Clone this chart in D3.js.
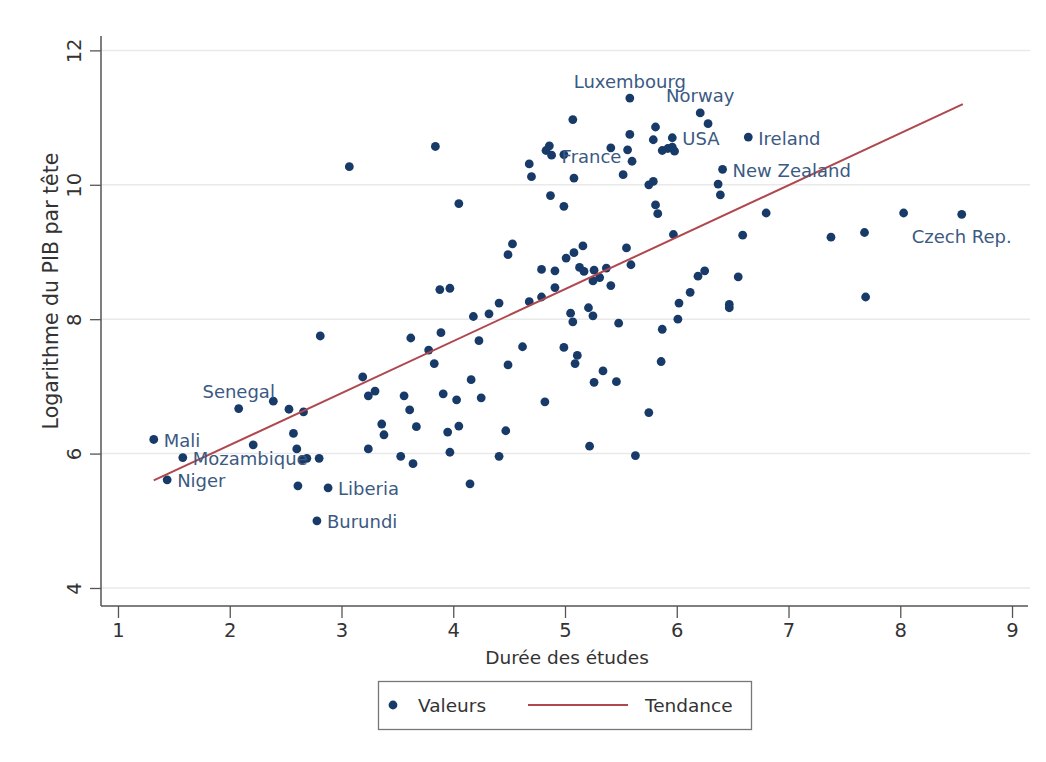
<!DOCTYPE html>
<html>
<head>
<meta charset="utf-8">
<script src="https://cdn.jsdelivr.net/npm/d3@7"></script>
<style>
  html, body { margin: 0; padding: 0; background: #ffffff; }
  svg { display: block; font-family: "DejaVu Sans", sans-serif; }
</style>
</head>
<body>
<svg id="chart" width="1046" height="762"></svg>
<script>
// ---- Data ----
const xTicks = [1, 2, 3, 4, 5, 6, 7, 8, 9];
const yTicks = [4, 6, 8, 10, 12];
const xTitle = "Durée des études";
const yTitle = "Logarithme du PIB par tête";
const legendLabels = ["Valeurs", "Tendance"];

// labelled countries: name, years of schooling, log GDP per head
const labelNames = ["Mali", "Mozambique", "Niger", "Senegal", "Liberia", "Burundi",
  "Luxembourg", "Norway", "France", "USA", "Ireland", "New Zealand", "Czech Rep."];
const labelX = [1.32, 1.58, 1.44, 2.08, 2.88, 2.78, 5.58, 6.21, 4.88, 5.96, 6.64, 6.41, 8.55];
const labelY = [6.21, 5.94, 5.61, 6.67, 5.49, 5.00, 11.29, 11.07, 10.44, 10.70, 10.71, 10.23, 9.56];

// other (unlabelled) countries
const otherX = [2.39, 2.53, 2.66, 2.21, 2.57, 2.60, 2.65, 2.69, 2.80, 2.61,
  3.19, 3.24, 3.30, 3.36, 3.38, 3.24, 3.53, 2.81, 3.64, 3.56,
  3.61, 3.67, 3.62, 3.89, 3.78, 3.83, 3.91, 4.03, 3.95, 4.05,
  3.97, 4.15, 4.16, 4.25, 4.41, 4.47, 4.49, 4.23, 4.18, 4.32,
  4.41, 4.62, 4.82, 4.68, 4.05, 4.99, 4.87, 5.81, 5.83, 5.97,
  4.53, 4.49, 5.16, 5.08, 5.01, 5.55, 5.59, 4.79, 4.91, 5.13,
  5.17, 5.26, 5.37, 5.25, 5.31, 5.41, 4.91, 4.79, 5.05, 5.07,
  5.21, 5.25, 5.48, 4.99, 5.11, 5.09, 5.34, 5.26, 5.46, 5.75,
  5.22, 5.63, 5.87, 5.86, 6.01, 6.02, 6.12, 6.19, 6.25, 3.88,
  3.97, 6.37, 6.39, 6.80, 6.59, 7.38, 7.68, 8.03, 7.69, 6.55,
  6.47, 6.47, 5.75, 5.79, 5.52, 5.60, 6.28, 5.81, 5.79, 5.87,
  5.92, 5.96, 5.98, 5.58, 5.56, 5.41, 5.07, 4.86, 4.83, 4.99,
  4.68, 4.70, 5.08, 3.07, 3.84];
const otherY = [6.78, 6.66, 6.62, 6.13, 6.30, 6.07, 5.91, 5.93, 5.93, 5.52,
  7.14, 6.86, 6.93, 6.44, 6.28, 6.07, 5.96, 7.75, 5.85, 6.86,
  6.65, 6.40, 7.72, 7.80, 7.54, 7.34, 6.89, 6.80, 6.32, 6.41,
  6.02, 5.55, 7.10, 6.83, 5.96, 6.34, 7.32, 7.68, 8.04, 8.08,
  8.24, 7.59, 6.77, 8.26, 9.72, 9.68, 9.84, 9.70, 9.57, 9.26,
  9.12, 8.96, 9.09, 8.99, 8.91, 9.06, 8.81, 8.74, 8.72, 8.77,
  8.71, 8.73, 8.76, 8.57, 8.62, 8.50, 8.47, 8.33, 8.09, 7.96,
  8.17, 8.05, 7.94, 7.58, 7.46, 7.34, 7.23, 7.06, 7.07, 6.61,
  6.11, 5.97, 7.85, 7.37, 8.00, 8.24, 8.40, 8.64, 8.72, 8.44,
  8.46, 10.01, 9.85, 9.58, 9.25, 9.22, 9.29, 9.58, 8.33, 8.63,
  8.22, 8.17, 10.00, 10.05, 10.15, 10.35, 10.91, 10.86, 10.67, 10.51,
  10.54, 10.56, 10.50, 10.75, 10.52, 10.55, 10.97, 10.58, 10.51, 10.45,
  10.31, 10.12, 10.10, 10.27, 10.57];

// trend line end points
const trendX = [1.32, 8.56];
const trendY = [5.60, 11.20];

// ---- Layout / style ----
const markerColor = "#173a68";
const labelColor = "#3b5a82";
const trendColor = "#b0464e";
const textColor = "#333333";
const gridColor = "#e9e9e9";

// label placement: t = above, b = below, otherwise to the right
const placement = { "Senegal": "t", "Luxembourg": "t", "Norway": "t", "Czech Rep.": "b" };

const svg = d3.select("#chart");
const x = d3.scaleLinear().domain([0.848, 9.134]).range([101, 1027]);
const y = d3.scaleLinear().domain([3.732, 12.214]).range([606, 36]);

// gridlines
svg.append("g").selectAll("line").data(yTicks).join("line")
  .attr("x1", 101).attr("x2", 1030)
  .attr("y1", d => y(d)).attr("y2", d => y(d))
  .attr("stroke", gridColor).attr("stroke-width", 1.5);

// x axis
const xAxis = svg.append("g").attr("transform", "translate(0,606)")
  .call(d3.axisBottom(x).tickValues(xTicks).tickFormat(d3.format("d")).tickSize(12).tickPadding(5));
xAxis.select(".domain").remove();
xAxis.selectAll(".tick line").attr("stroke", "#555").attr("stroke-width", 1.3);
xAxis.selectAll(".tick text").attr("fill", textColor)
  .style("font-family", "DejaVu Sans, sans-serif").style("font-size", "19.5px");
svg.append("line").attr("x1", 101).attr("x2", 1028).attr("y1", 606).attr("y2", 606)
  .attr("stroke", "#555").attr("stroke-width", 1.5);

// y axis
const yAxis = svg.append("g").attr("transform", "translate(101,0)")
  .call(d3.axisLeft(y).tickValues(yTicks).tickFormat(d3.format("d")).tickSize(11).tickPadding(0));
yAxis.select(".domain").remove();
yAxis.selectAll(".tick line").attr("stroke", "#555").attr("stroke-width", 1.3);
yAxis.selectAll(".tick text")
  .attr("x", -27).attr("dy", 0)
  .attr("transform", "rotate(-90,-27,0)")
  .attr("text-anchor", "middle")
  .attr("dominant-baseline", "central")
  .attr("fill", textColor)
  .style("font-family", "DejaVu Sans, sans-serif").style("font-size", "19.5px");
svg.append("line").attr("x1", 101).attr("x2", 101).attr("y1", 36).attr("y2", 606)
  .attr("stroke", "#555").attr("stroke-width", 1.5);

// axis titles
svg.append("text").attr("x", 567).attr("y", 657)
  .attr("text-anchor", "middle").attr("dominant-baseline", "central")
  .attr("fill", textColor).style("font-size", "18.5px").text(xTitle);
svg.append("text").attr("transform", "translate(51,291) rotate(-90)")
  .attr("text-anchor", "middle").attr("dominant-baseline", "central")
  .attr("fill", textColor).style("font-size", "20.5px").text(yTitle);

// points
const others = otherX.map((v, i) => ({ x: v, y: otherY[i] }));
const labelled = labelNames.map((n, i) => ({ name: n, x: labelX[i], y: labelY[i] }));
svg.append("g").selectAll("circle").data(others.concat(labelled)).join("circle")
  .attr("cx", d => x(d.x)).attr("cy", d => y(d.y)).attr("r", 4.4)
  .attr("fill", markerColor);

// trend line
svg.append("path")
  .datum(trendX.map((v, i) => [v, trendY[i]]))
  .attr("d", d3.line().x(d => x(d[0])).y(d => y(d[1])))
  .attr("fill", "none").attr("stroke", trendColor).attr("stroke-width", 2);

// point labels
svg.append("g").selectAll("text").data(labelled).join("text")
  .attr("x", d => {
    const p = placement[d.name];
    return (p === "t" || p === "b") ? x(d.x) : x(d.x) + 10;
  })
  .attr("y", d => {
    const p = placement[d.name];
    if (p === "t") return y(d.y) - 17;
    if (p === "b") return y(d.y) + 22;
    return y(d.y) + 1;
  })
  .attr("text-anchor", d => (placement[d.name] === "t" || placement[d.name] === "b") ? "middle" : "start")
  .attr("dominant-baseline", "central")
  .attr("fill", labelColor).style("font-size", "18px")
  .text(d => d.name);

// legend
const lg = svg.append("g");
lg.append("rect").attr("x", 378.5).attr("y", 681.5).attr("width", 373).attr("height", 48)
  .attr("fill", "#fff").attr("stroke", "#777").attr("stroke-width", 1.3);
lg.append("circle").attr("cx", 393).attr("cy", 705).attr("r", 4.4).attr("fill", markerColor);
lg.append("text").attr("x", 418).attr("y", 705).attr("dominant-baseline", "central")
  .attr("fill", textColor).style("font-size", "18.5px").text(legendLabels[0]);
lg.append("line").attr("x1", 528).attr("x2", 628).attr("y1", 705).attr("y2", 705)
  .attr("stroke", trendColor).attr("stroke-width", 2);
lg.append("text").attr("x", 645).attr("y", 705).attr("dominant-baseline", "central")
  .attr("fill", textColor).style("font-size", "18.5px").text(legendLabels[1]);
</script>
</body>
</html>
